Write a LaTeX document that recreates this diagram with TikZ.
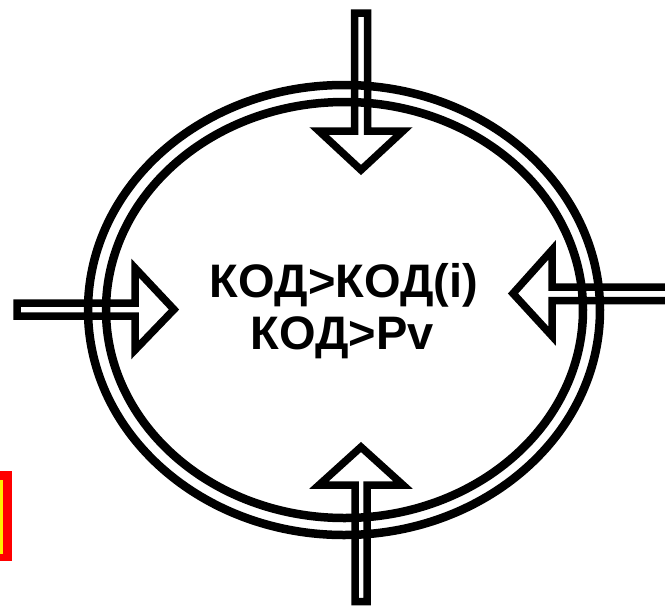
\documentclass[tikz,border=0pt]{standalone}
\usepackage{fontspec}
\setmainfont{Liberation Sans}
\begin{document}
\begin{tikzpicture}[x=1pt,y=-1pt,
  ring/.style={draw=black,line width=8.5pt},
  hollowarrow/.style={draw=black,line width=7.5pt,line join=miter,miter limit=10},
  label/.style={font=\bfseries\fontsize{47}{52}\selectfont,inner sep=0pt,anchor=base}]
\useasboundingbox (0,0) rectangle (665,606);
% red marker at left edge
\fill[red] (-20,471) rectangle (11.7,561);
\draw[yellow,line width=3pt] (-20,481) rectangle (1.6,552);
% double ellipse
\draw[ring] (344,310) ellipse [x radius=256pt,y radius=225pt];
\draw[ring] (344.5,310) ellipse [x radius=238.5pt,y radius=208pt];
% top arrow (pointing down)
\draw[hollowarrow] (354.5,13) -- (354.5,131) -- (319,131) -- (361,170) -- (403,131) -- (367.5,131) -- (367.5,13) -- cycle;
% bottom arrow (pointing up)
\draw[hollowarrow] (355,601.5) -- (355,485) -- (319,485) -- (361,447) -- (403,485) -- (367,485) -- (367,601.5) -- cycle;
% left arrow (pointing right)
\draw[hollowarrow] (17,303) -- (135,303) -- (135,268) -- (174,309.5) -- (135,350) -- (135,316) -- (17,316) -- cycle;
% right arrow (pointing left)
\draw[hollowarrow] (672,287) -- (552,287) -- (552,250) -- (513,293.5) -- (552,336) -- (552,300.5) -- (672,300.5) -- cycle;
% text
\node[label] (l1) at (344,297) {КОД>КОД(i)};
\node[label] (l2) at (342,349) {КОД>Pv};
\end{tikzpicture}
\end{document}
